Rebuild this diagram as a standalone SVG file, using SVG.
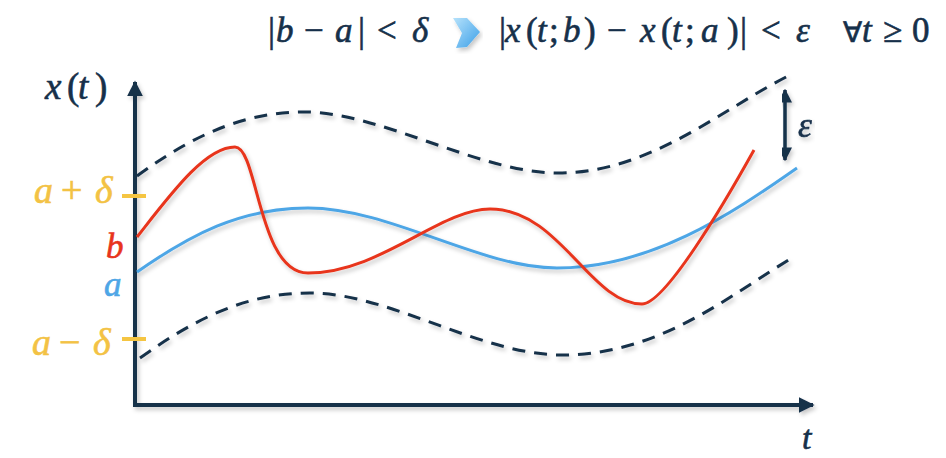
<svg xmlns="http://www.w3.org/2000/svg" width="946" height="458" viewBox="0 0 946 458">
<defs>
<filter id="sh" x="-10%" y="-10%" width="120%" height="130%">
<feDropShadow dx="2" dy="3" stdDeviation="2" flood-color="#000" flood-opacity="0.22"/>
</filter>
<linearGradient id="ag" x1="0" y1="0" x2="1" y2="1">
<stop offset="0" stop-color="#b6e2fb"/>
<stop offset="1" stop-color="#3b9fe8"/>
</linearGradient>
<marker id="ah" viewBox="0 0 10 10" refX="9" refY="5" markerWidth="4" markerHeight="4" orient="auto-start-reverse">
<path d="M0,0 L10,5 L0,10 z" fill="#16304a"/>
</marker>
</defs>
<style>
.m{font-family:"Liberation Serif","Times New Roman",serif;font-style:italic;fill:#16304a;stroke:#16304a;stroke-width:0.6}
.u{font-style:normal}
.y{fill:#f3c244;stroke:#f3c244}
.ax{stroke:#16304a;stroke-width:4;fill:none}
.dash{stroke:#16304a;stroke-width:3;fill:none;stroke-dasharray:13 9}
.cv{stroke-width:3;fill:none}
</style>
<rect width="946" height="458" fill="#fff"/>

<g id="formula">
<text class="m" font-size="35" y="42"><tspan class="u" x="268">|</tspan><tspan x="276">b</tspan><tspan class="u" x="304">−</tspan><tspan x="335">a</tspan><tspan class="u" x="358">|</tspan><tspan class="u" x="377">&lt;</tspan><tspan x="412">δ</tspan></text>
<polygon points="453,18 467,18 480,32 467,47 456,48 462,33" fill="url(#ag)" filter="url(#sh)"/>
<text class="m" font-size="35" y="42"><tspan class="u" x="499">|</tspan><tspan x="505">x</tspan><tspan class="u" x="526">(</tspan><tspan x="537">t</tspan><tspan class="u" x="549">;</tspan><tspan x="563">b</tspan><tspan class="u" x="584">)</tspan><tspan class="u" x="607">−</tspan><tspan x="640">x</tspan><tspan class="u" x="661">(</tspan><tspan x="672">t</tspan><tspan class="u" x="685">;</tspan><tspan x="701">a</tspan><tspan class="u" x="727">)</tspan><tspan class="u" x="740">|</tspan><tspan class="u" x="761">&lt;</tspan><tspan x="796">ε</tspan></text>
<text class="m" font-size="35" y="42"><tspan class="u" x="843" font-size="28">∀</tspan><tspan x="862">t</tspan><tspan class="u" x="883">≥</tspan><tspan class="u" x="912">0</tspan></text>
</g>

<g id="axes" filter="url(#sh)">
<line class="ax" x1="135" y1="405" x2="135" y2="82" marker-end="url(#ah)"/>
<line class="ax" x1="133" y1="405" x2="813" y2="405" marker-end="url(#ah)"/>
</g>

<g id="bound-upper" filter="url(#sh)">
<path class="dash" d="M137,176 C200,130 250,112 305,112 C380,112 480,173 558,173 C650,173 720,110 790,75"/>
</g>
<g id="bound-lower" filter="url(#sh)">
<path class="dash" d="M140,358 C200,315 250,293 310,293 C390,293 480,355 562,355 C660,355 730,295 795,256"/>
</g>

<g id="curve-a" filter="url(#sh)">
<path class="cv" stroke="#4ea6e6" d="M137,272 C190,235 240,208 308,208 C390,208 480,268 557,268 C650,268 730,215 797,168"/>
</g>
<g id="curve-b" filter="url(#sh)">
<path class="cv" stroke="#e8341c" d="M137,237 C170,195 205,147 235,147 C258,147 258,273 308,273 C380,273 440,209 490,209 C560,209 590,304 642,304 C665,304 724,204 754,150"/>
</g>

<g id="ticks">
<line x1="122" y1="196" x2="146" y2="196" stroke="#f5c542" stroke-width="4"/>
<line x1="122" y1="339" x2="146" y2="339" stroke="#f5c542" stroke-width="4"/>
</g>

<g id="labels">
<text class="m" font-size="37" y="99"><tspan x="45">x</tspan><tspan class="u" x="67">(</tspan><tspan x="78">t</tspan><tspan class="u" x="95">)</tspan></text>
<text class="m y" font-size="38" y="203"><tspan x="34">a</tspan><tspan class="u" x="61">+</tspan><tspan x="95">δ</tspan></text>
<text class="m y" font-size="38" y="355"><tspan x="32">a</tspan><tspan class="u" x="59">−</tspan><tspan x="93">δ</tspan></text>
<text class="m" font-size="35" x="106" y="258" style="fill:#e8341c;stroke:#e8341c">b</text>
<text class="m" font-size="35" x="104" y="296" style="fill:#4ea6e6;stroke:#4ea6e6">a</text>
<text class="m" font-size="34" x="802" y="449">t</text>
</g>

<g id="epsilon" filter="url(#sh)">
<line x1="785" y1="90" x2="785" y2="160" stroke="#16304a" stroke-width="3.5" marker-start="url(#ah)" marker-end="url(#ah)"/>
<text class="m" font-size="35" x="798" y="137">ε</text>
</g>
</svg>
